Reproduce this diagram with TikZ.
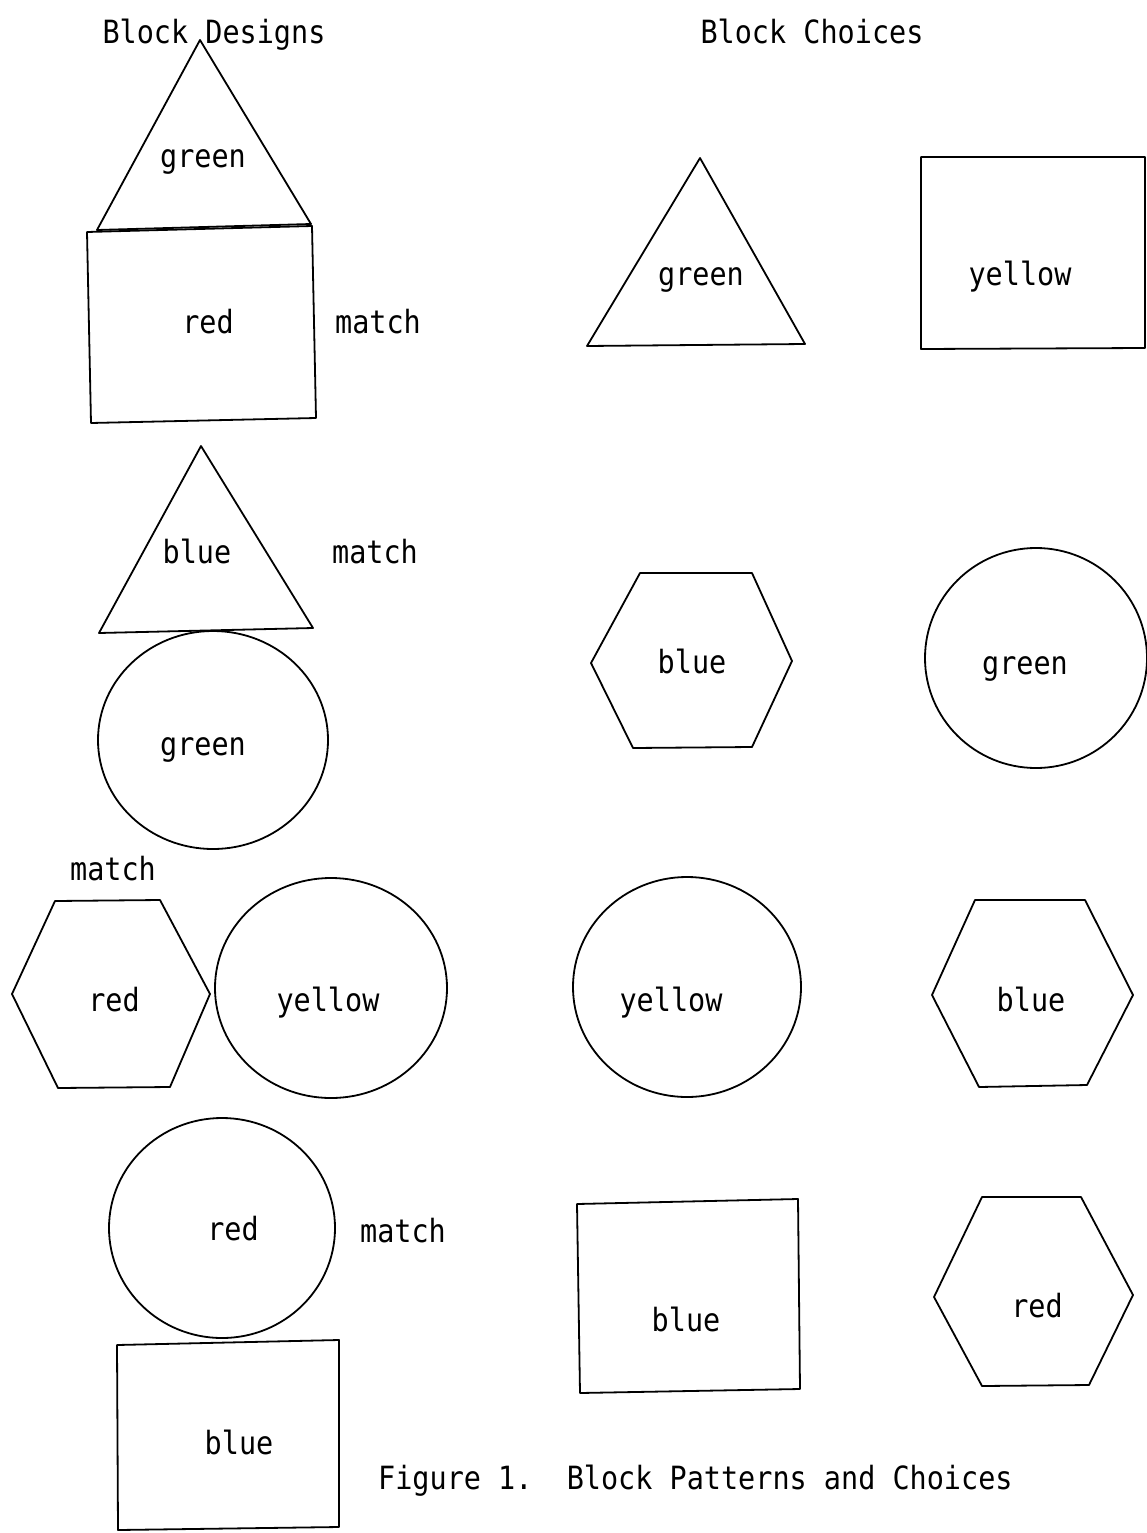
\documentclass[tikz,border=0pt]{standalone}
\usepackage{fontspec}
\newfontfamily\tw[FakeStretch=0.89]{DejaVu Sans Mono}
\begin{document}
\begin{tikzpicture}[x=1pt,y=-1pt,
  blk/.style={draw, line width=1.8pt, line join=round},
  lbl/.style={font=\tw\fontsize{32}{36}\selectfont, anchor=base, inner sep=0pt, yshift=-2pt}]
\useasboundingbox[fill=white] (0,0) rectangle (1146,1533);
% headings
\node[lbl] (hd) at (214,42) {Block Designs};
\node[lbl] (hc) at (812,42) {Block Choices};
% ---- left column ----
\draw[blk] (200,40) -- (311,224) -- (97,230) -- cycle;
\node[lbl] (g1) at (203,166) {green};
\draw[blk] (87,232) -- (312,226) -- (316,418) -- (91,423) -- cycle;
\node[lbl] (r1) at (208,331) {red};
\node[lbl] (m1) at (378,331) {match};
\draw[blk] (201,446) -- (313,628) -- (99,633) -- cycle;
\node[lbl] (b1) at (197,561) {blue};
\node[lbl] (m2) at (375,561) {match};
\draw[blk] (213,740) ellipse [x radius=115pt, y radius=109pt];
\node[lbl] (g2) at (203,753) {green};
\node[lbl] (m3) at (113,878) {match};
\draw[blk] (55,901) -- (160,900) -- (210,994) -- (170,1087) -- (58,1088) -- (12,994) -- cycle;
\node[lbl] (r2) at (114,1009) {red};
\draw[blk] (331,988) ellipse [x radius=116pt, y radius=110pt];
\node[lbl] (y1) at (328,1009) {yellow};
\draw[blk] (222,1228) ellipse [x radius=113pt, y radius=110pt];
\node[lbl] (r3) at (233,1238) {red};
\node[lbl] (m4) at (403,1240) {match};
\draw[blk] (117,1345) -- (339,1340) -- (339,1527) -- (118,1530) -- cycle;
\node[lbl] (b2) at (239,1452) {blue};
% ---- right column ----
\draw[blk] (700,158) -- (805,344) -- (587,346) -- cycle;
\node[lbl] (g3) at (701,283) {green};
\draw[blk] (921,157) -- (1145,157) -- (1145,348) -- (921,349) -- cycle;
\node[lbl] (y2) at (1020,283) {yellow};
\draw[blk] (640,573) -- (752,573) -- (792,661) -- (752,747) -- (633,748) -- (591,663) -- cycle;
\node[lbl] (b3) at (692,671) {blue};
\draw[blk] (1036,658) ellipse [x radius=111pt, y radius=110pt];
\node[lbl] (g4) at (1025,672) {green};
\draw[blk] (687,987) ellipse [x radius=114pt, y radius=110pt];
\node[lbl] (y3) at (671,1009) {yellow};
\draw[blk] (975,900) -- (1085,900) -- (1133,995) -- (1087,1085) -- (979,1087) -- (932,995) -- cycle;
\node[lbl] (b4) at (1031,1009) {blue};
\draw[blk] (577,1204) -- (798,1199) -- (800,1389) -- (580,1393) -- cycle;
\node[lbl] (b5) at (686,1329) {blue};
\draw[blk] (982,1197) -- (1081,1197) -- (1133,1295) -- (1089,1385) -- (982,1386) -- (934,1297) -- cycle;
\node[lbl] (r4) at (1037,1315) {red};
% caption
\node[lbl, anchor=base west] (cap) at (378,1487) {Figure 1.\ \ Block Patterns and Choices};
\end{tikzpicture}
\end{document}
